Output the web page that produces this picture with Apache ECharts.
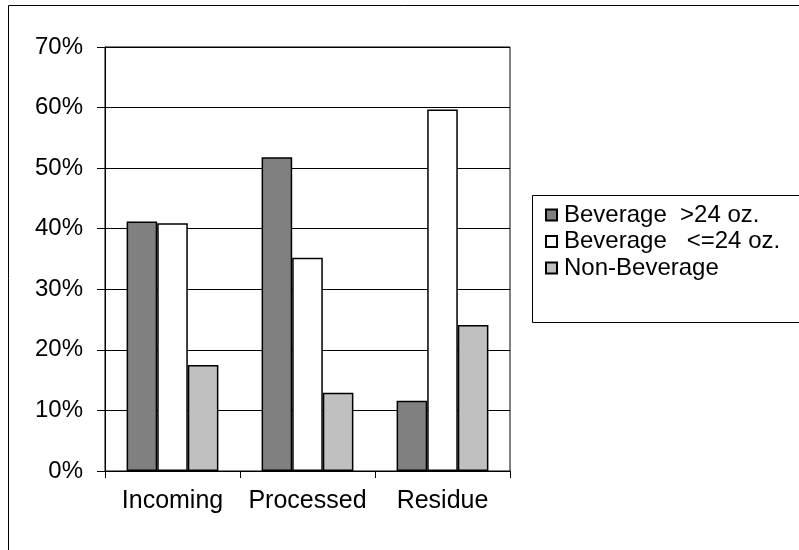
<!DOCTYPE html>
<html>
<head>
<meta charset="utf-8">
<style>
  html, body { margin: 0; padding: 0; background: #fff; }
  #chart { width: 799px; height: 550px; }
</style>
<script src="https://cdn.jsdelivr.net/npm/echarts@6/dist/echarts.min.js"></script>
</head>
<body>
<div id="chart"></div>
<script>
// Share of each stream by container type
const categories = ['Incoming', 'Processed', 'Residue'];
const seriesNames = ['Beverage  >24 oz.', 'Beverage   <=24 oz.', 'Non-Beverage'];
const bevLarge = [0.412, 0.518, 0.116];
const bevSmall = [0.409, 0.352, 0.597];
const nonBev = [0.175, 0.129, 0.241];
const yTicks = [0, 0.1, 0.2, 0.3, 0.4, 0.5, 0.6, 0.7];

const fills = ['#808080', '#ffffff', '#c0c0c0'];
const font = '"Liberation Sans", Arial, sans-serif';
const fontSize = 24;

const chart = echarts.init(document.getElementById('chart'));

function barSeries(name, data, color) {
  return {
    name: name,
    type: 'bar',
    data: data,
    barGap: '0%',
    barCategoryGap: '32%',
    itemStyle: { color: color, borderColor: '#000', borderWidth: 1.5 },
    emphasis: { disabled: true }
  };
}

chart.setOption({
  animation: false,
  backgroundColor: '#fff',
  textStyle: { fontFamily: font, color: '#000' },
  graphic: [
    // outer chart frame
    { type: 'rect', shape: { x: 8.5, y: 5.5, width: 900, height: 900 },
      style: { fill: 'none', stroke: '#000', lineWidth: 1 }, silent: true },
    // legend frame
    { type: 'rect', shape: { x: 532.5, y: 195.5, width: 400, height: 127 },
      style: { fill: '#fff', stroke: '#000', lineWidth: 1 }, silent: true, z: 1 }
  ],
  grid: {
    left: 105, right: 289, top: 47, bottom: 79,
    show: true, borderColor: '#000', borderWidth: 1, backgroundColor: 'transparent'
  },
  legend: {
    orient: 'vertical',
    left: 540, top: 198,
    icon: 'rect',
    itemWidth: 11, itemHeight: 11,
    itemGap: 2.5,
    z: 5,
    textStyle: { fontFamily: font, fontSize: fontSize, color: '#000', padding: [0, 0, 0, 2] },
    data: seriesNames
  },
  xAxis: {
    type: 'category',
    data: categories,
    axisLine: { lineStyle: { color: '#000', width: 1 } },
    axisTick: { show: true, length: 7, lineStyle: { color: '#000' } },
    axisLabel: { fontFamily: font, fontSize: 25, color: '#000', margin: 18, interval: 0, hideOverlap: false },
    splitLine: { show: false }
  },
  yAxis: {
    type: 'value',
    min: yTicks[0], max: yTicks[yTicks.length - 1], interval: 0.1,
    axisLine: { show: true, lineStyle: { color: '#000', width: 1 } },
    axisTick: { show: true, length: 8, lineStyle: { color: '#000' } },
    axisLabel: {
      fontFamily: font, fontSize: fontSize, color: '#000', margin: 22,
      formatter: v => Math.round(v * 100) + '%'
    },
    splitLine: { show: true, lineStyle: { color: '#000', width: 1 } }
  },
  series: [
    barSeries(seriesNames[0], bevLarge, fills[0]),
    barSeries(seriesNames[1], bevSmall, fills[1]),
    barSeries(seriesNames[2], nonBev, fills[2])
  ]
});
</script>
</body>
</html>
